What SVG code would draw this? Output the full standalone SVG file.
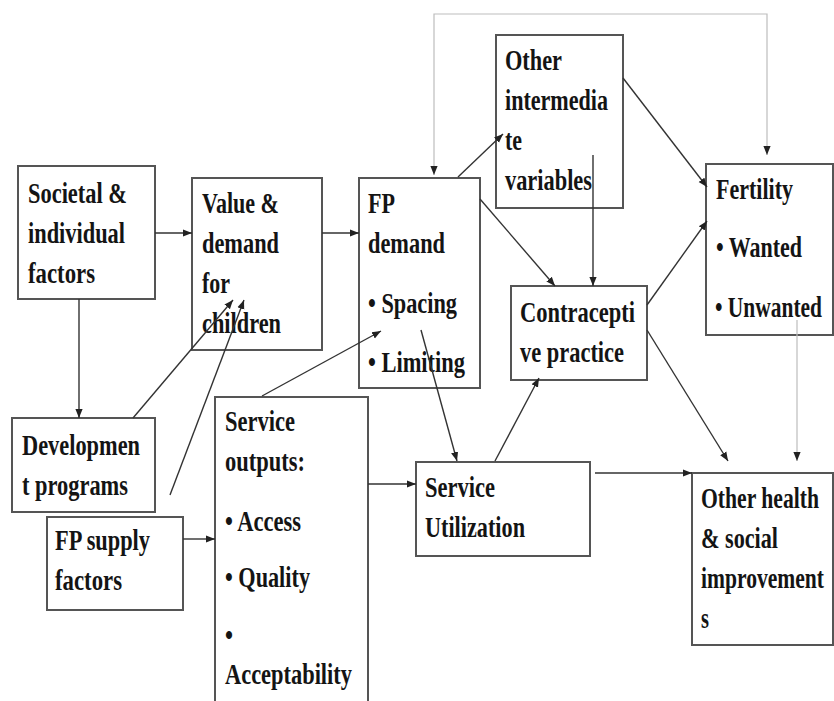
<svg xmlns="http://www.w3.org/2000/svg" width="834" height="701" viewBox="0 0 834 701" font-family="Liberation Serif" font-weight="bold" font-size="30">
<defs>
<style>
.box{fill:#fff;stroke:#555;stroke-width:2}
.t{fill:#141414}
.c{fill:none;stroke:#333;stroke-width:1.4}
.g{fill:none;stroke:#bdbdbd;stroke-width:1.2}
</style>
<marker id="ah" viewBox="0 0 10 10" refX="10" refY="5" markerWidth="9" markerHeight="9" markerUnits="userSpaceOnUse" orient="auto-start-reverse">
<path d="M0,1 L10,5 L0,9 z" fill="#222"/>
</marker>
</defs>
<rect width="834" height="701" fill="#fff"/>

<g id="societal">
<rect class="box" x="18" y="166" width="137" height="133"/>
<text class="t" font-family="Liberation Serif" x="28" y="203" textLength="99" lengthAdjust="spacingAndGlyphs">Societal &amp;</text>
<text class="t" font-family="Liberation Serif" x="28" y="243" textLength="97" lengthAdjust="spacingAndGlyphs">individual</text>
<text class="t" font-family="Liberation Serif" x="28" y="283" textLength="67" lengthAdjust="spacingAndGlyphs">factors</text>
</g>
<g id="value">
<rect class="box" x="192" y="178" width="130" height="172"/>
<text class="t" font-family="Liberation Serif" x="202" y="213" textLength="77" lengthAdjust="spacingAndGlyphs">Value &amp;</text>
<text class="t" font-family="Liberation Serif" x="202" y="253" textLength="77" lengthAdjust="spacingAndGlyphs">demand</text>
<text class="t" font-family="Liberation Serif" x="202" y="293" textLength="28" lengthAdjust="spacingAndGlyphs">for</text>
<text class="t" font-family="Liberation Serif" x="202" y="333" textLength="79" lengthAdjust="spacingAndGlyphs">children</text>
</g>
<g id="fpdemand">
<rect class="box" x="359" y="178" width="121" height="210"/>
<text class="t" font-family="Liberation Serif" x="368" y="213" textLength="27" lengthAdjust="spacingAndGlyphs">FP</text>
<text class="t" font-family="Liberation Serif" x="368" y="253" textLength="77" lengthAdjust="spacingAndGlyphs">demand</text>
<text class="t" font-family="Liberation Serif" x="368" y="313" textLength="89" lengthAdjust="spacingAndGlyphs">• Spacing</text>
<text class="t" font-family="Liberation Serif" x="368" y="372" textLength="97" lengthAdjust="spacingAndGlyphs">• Limiting</text>
</g>
<g id="otherintermediate">
<rect class="box" x="496" y="35" width="127" height="173"/>
<text class="t" font-family="Liberation Serif" x="505" y="70" textLength="57" lengthAdjust="spacingAndGlyphs">Other</text>
<text class="t" font-family="Liberation Serif" x="505" y="110" textLength="103" lengthAdjust="spacingAndGlyphs">intermedia</text>
<text class="t" font-family="Liberation Serif" x="505" y="150" textLength="17" lengthAdjust="spacingAndGlyphs">te</text>
<text class="t" font-family="Liberation Serif" x="505" y="190" textLength="87" lengthAdjust="spacingAndGlyphs">variables</text>
</g>
<g id="fertility">
<rect class="box" x="706" y="164" width="127" height="171"/>
<text class="t" font-family="Liberation Serif" x="716" y="199" textLength="77" lengthAdjust="spacingAndGlyphs">Fertility</text>
<text class="t" font-family="Liberation Serif" x="716" y="257" textLength="86" lengthAdjust="spacingAndGlyphs">• Wanted</text>
<text class="t" font-family="Liberation Serif" x="715" y="317" textLength="107" lengthAdjust="spacingAndGlyphs">• Unwanted</text>
</g>
<g id="contraceptive">
<rect class="box" x="511" y="286" width="136" height="94"/>
<text class="t" font-family="Liberation Serif" x="520" y="322" textLength="115" lengthAdjust="spacingAndGlyphs">Contracepti</text>
<text class="t" font-family="Liberation Serif" x="520" y="362" textLength="104" lengthAdjust="spacingAndGlyphs">ve practice</text>
</g>
<g id="development">
<rect class="box" x="12" y="418" width="143" height="94"/>
<text class="t" font-family="Liberation Serif" x="22" y="455" textLength="118" lengthAdjust="spacingAndGlyphs">Developmen</text>
<text class="t" font-family="Liberation Serif" x="22" y="495" textLength="106" lengthAdjust="spacingAndGlyphs">t programs</text>
</g>
<g id="fpsupply">
<rect class="box" x="47" y="517" width="136" height="93"/>
<text class="t" font-family="Liberation Serif" x="55" y="550" textLength="95" lengthAdjust="spacingAndGlyphs">FP supply</text>
<text class="t" font-family="Liberation Serif" x="55" y="590" textLength="67" lengthAdjust="spacingAndGlyphs">factors</text>
</g>
<g id="serviceoutputs">
<rect class="box" x="215" y="397" width="153" height="320"/>
<text class="t" font-family="Liberation Serif" x="225" y="431" textLength="70" lengthAdjust="spacingAndGlyphs">Service</text>
<text class="t" font-family="Liberation Serif" x="225" y="471" textLength="80" lengthAdjust="spacingAndGlyphs">outputs:</text>
<text class="t" font-family="Liberation Serif" x="225" y="531" textLength="76" lengthAdjust="spacingAndGlyphs">• Access</text>
<text class="t" font-family="Liberation Serif" x="225" y="587" textLength="85" lengthAdjust="spacingAndGlyphs">• Quality</text>
<text class="t" font-family="Liberation Serif" x="225" y="645" textLength="8" lengthAdjust="spacingAndGlyphs">•</text>
<text class="t" font-family="Liberation Serif" x="225" y="684" textLength="127" lengthAdjust="spacingAndGlyphs">Acceptability</text>
</g>
<g id="serviceutilization">
<rect class="box" x="416" y="462" width="174" height="94"/>
<text class="t" font-family="Liberation Serif" x="425" y="497" textLength="70" lengthAdjust="spacingAndGlyphs">Service</text>
<text class="t" font-family="Liberation Serif" x="425" y="537" textLength="100" lengthAdjust="spacingAndGlyphs">Utilization</text>
</g>
<g id="otherhealth">
<rect class="box" x="692" y="473" width="141" height="172"/>
<text class="t" font-family="Liberation Serif" x="701" y="508" textLength="118" lengthAdjust="spacingAndGlyphs">Other health</text>
<text class="t" font-family="Liberation Serif" x="701" y="548" textLength="77" lengthAdjust="spacingAndGlyphs">&amp; social</text>
<text class="t" font-family="Liberation Serif" x="701" y="588" textLength="123" lengthAdjust="spacingAndGlyphs">improvement</text>
<text class="t" font-family="Liberation Serif" x="701" y="628" textLength="8" lengthAdjust="spacingAndGlyphs">s</text>
</g>

<g id="connectors">
<line class="c" x1="155" y1="233" x2="192" y2="233" marker-end="url(#ah)"/>
<line class="c" x1="322" y1="233" x2="359" y2="233" marker-end="url(#ah)"/>
<line class="c" x1="79" y1="299" x2="79" y2="418" marker-end="url(#ah)"/>
<line class="c" x1="133" y1="418" x2="233" y2="300" marker-end="url(#ah)"/>
<line class="c" x1="170" y1="495" x2="244" y2="300" marker-end="url(#ah)"/>
<line class="c" x1="183" y1="539" x2="215" y2="539" marker-end="url(#ah)"/>
<line class="c" x1="262" y1="396" x2="381" y2="331" marker-end="url(#ah)"/>
<line class="c" x1="368" y1="484" x2="416" y2="484" marker-end="url(#ah)"/>
<line class="c" x1="421" y1="330" x2="457" y2="461" marker-end="url(#ah)"/>
<line class="c" x1="495" y1="461" x2="539" y2="378" marker-end="url(#ah)"/>
<line class="c" x1="458" y1="177" x2="503" y2="134" marker-end="url(#ah)"/>
<line class="c" x1="480" y1="199" x2="555" y2="286" marker-end="url(#ah)"/>
<line class="c" x1="593" y1="155" x2="593" y2="286" marker-end="url(#ah)"/>
<line class="c" x1="623" y1="78" x2="707" y2="187" marker-end="url(#ah)"/>
<line class="c" x1="647" y1="305" x2="707" y2="221" marker-end="url(#ah)"/>
<line class="c" x1="647" y1="330" x2="728" y2="461" marker-end="url(#ah)"/>
<line class="c" x1="595" y1="473" x2="692" y2="473" marker-end="url(#ah)"/>
<path class="g" d="M434,175 V14 H767 V155" marker-start="url(#ah)" marker-end="url(#ah)"/>
<line class="g" x1="797" y1="320" x2="797" y2="461" marker-end="url(#ah)"/>
</g>
</svg>
